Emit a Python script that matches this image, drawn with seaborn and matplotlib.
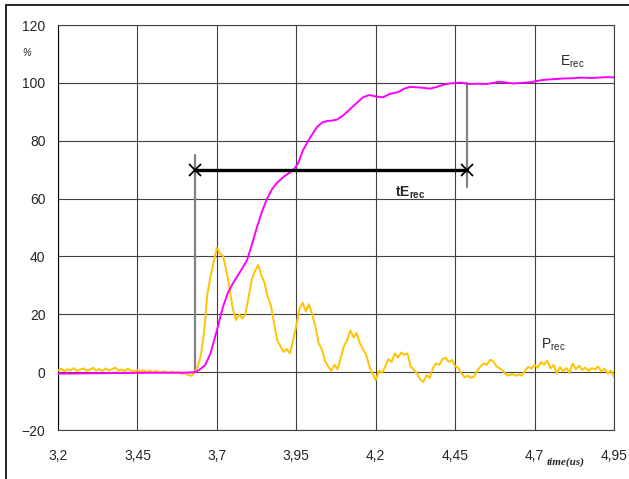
import numpy as np
import pandas as pd
import matplotlib
matplotlib.use("Agg")
import matplotlib.pyplot as plt
import seaborn as sns

# P_rec samples, one every 0.01 us from 3.20 to 4.95
P_TIME = np.round(np.arange(3.20, 4.9551, 0.01), 2)
P_REC = [
    0.5, 1.2, 0.3, 1.0, 0.6, 1.4, 0.4, 0.9, 1.3, 0.5,
    0.8, 1.5, 0.6, 1.1, 0.4, 1.3, 0.7, 1.0, 1.6, 0.5,
    0.9, 0.4, 1.2, 0.6, 0.3, 0.8, 0.2, 0.6, 0.1, 0.5,
    0.0, 0.4, -0.2, 0.3, 0.1, -0.3, 0.2, -0.4, 0.0, -0.6,
    -0.3, -0.9, -1.3, -0.2, 2.0, 6.0, 14.0, 27.0, 33.0, 38.0,
    43.0, 41.0, 40.0, 35.0, 29.0, 22.0, 18.0, 20.0, 18.5, 20.0,
    26.0, 32.0, 35.0, 37.0, 33.5, 31.0, 26.0, 23.0, 17.0, 11.0,
    9.0, 7.0, 8.0, 6.5, 11.0, 16.0, 22.0, 24.0, 21.0, 23.5,
    20.0, 16.0, 10.0, 8.0, 4.0, 2.0, 0.5, 2.5, 1.0, 5.0,
    9.0, 11.0, 14.5, 12.0, 13.5, 10.0, 8.0, 6.0, 2.0, -0.5,
    -2.8, 0.5, -0.2, 2.0, 4.5, 3.5, 6.5, 5.0, 6.8, 6.0,
    6.5, 2.0, 0.8, -0.5, -2.5, -3.4, -1.0, -2.0, 1.5, 3.0,
    2.5, 4.5, 5.0, 3.5, 4.2, 2.0, 1.5, -0.5, -1.8, -1.2,
    -2.0, -1.5, 0.5, 2.0, 3.0, 2.5, 4.3, 3.8, 2.0, 1.3,
    0.5, -0.8, -1.2, -0.6, -1.3, -0.8, -1.2, 0.5, 1.8, 1.2,
    2.5, 1.5, 3.5, 2.6, 4.0, 1.3, 2.5, -0.5, 1.8, 0.2,
    1.5, -0.3, 3.0, 1.0, 2.2, 0.8, 1.6, 0.4, 1.4, 0.9,
    2.0, 0.3, 1.2, -0.5, 0.6, -1.7,
]

E_TIME = [
    3.20, 3.30, 3.40, 3.50, 3.60, 3.63, 3.645, 3.663, 3.68, 3.694,
    3.705, 3.719, 3.735, 3.751, 3.775, 3.795, 3.81, 3.826, 3.842, 3.858,
    3.875, 3.889, 3.91, 3.94, 3.955, 3.971, 3.993, 4.015, 4.032, 4.047,
    4.065, 4.078, 4.095, 4.11, 4.14, 4.16, 4.18, 4.20, 4.223, 4.245,
    4.27, 4.29, 4.308, 4.34, 4.371, 4.393, 4.414, 4.434, 4.465, 4.497,
    4.525, 4.55, 4.57, 4.591, 4.61, 4.633, 4.66, 4.686, 4.705, 4.727,
    4.76, 4.79, 4.82, 4.843, 4.88, 4.928, 4.95,
]
E_REC = [
    -0.5, -0.4, -0.3, -0.2, -0.2, 0.0, 0.8, 2.4, 6.5, 12.0,
    16.5, 22.5, 27.5, 30.8, 35.0, 38.7, 44.0, 50.0, 55.5, 60.0,
    63.5, 65.4, 67.5, 69.8, 72.0, 76.7, 81.0, 84.7, 86.3, 86.8,
    87.0, 87.3, 88.5, 90.0, 93.0, 95.0, 95.8, 95.3, 95.0, 96.2,
    96.8, 98.0, 98.6, 98.4, 98.0, 98.6, 99.4, 99.8, 100.1, 99.6,
    99.7, 99.6, 100.0, 100.4, 100.1, 99.8, 100.0, 100.2, 100.6, 101.0,
    101.3, 101.5, 101.6, 101.8, 101.7, 102.0, 101.9,
]

# tE_rec span: start / end of the rise, drawn at the 70 % level
T_START = 3.63
T_END = 4.487
SPAN_LEVEL = 70

X_TICKS = [3.2, 3.45, 3.7, 3.95, 4.2, 4.45, 4.7, 4.95]
X_LABELS = ["3,2", "3,45", "3,7", "3,95", "4,2", "4,45", "4,7", "4,95"]
Y_TICKS = [-20, 0, 20, 40, 60, 80, 100, 120]

sns.set_style("white")
plt.rcParams["font.family"] = ["Liberation Sans", "DejaVu Sans"]

df_p = pd.DataFrame({"time": P_TIME, "value": P_REC})
df_e = pd.DataFrame({"time": E_TIME, "value": E_REC})

fig = plt.figure(figsize=(6.29, 4.79), dpi=100)
ax = fig.add_axes([58 / 629, 1 - 430 / 479, 556 / 629, 405 / 479])

# guide lines behind the curves
ax.plot([T_START, T_START], [0, 75], color="#808080", lw=1.6, zorder=2)
ax.plot([T_END, T_END], [64, 100], color="#808080", lw=1.6, zorder=2)

sns.lineplot(data=df_p, x="time", y="value", ax=ax, color="#FFC400", lw=1.4,
             zorder=3, estimator=None, sort=False)
sns.lineplot(data=df_e, x="time", y="value", ax=ax, color="#FF00FF", lw=1.4,
             zorder=4, estimator=None, sort=False)

ax.plot([T_START, T_END], [SPAN_LEVEL, SPAN_LEVEL], color="black", lw=2.4,
        marker="x", markersize=9, markeredgewidth=1.3, zorder=5)

ax.set_xlim(3.2, 4.95)
ax.set_ylim(-20, 120)
ax.set_xticks(X_TICKS)
ax.set_xticklabels(X_LABELS)
ax.set_yticks(Y_TICKS)
ax.grid(True, color="#404040", lw=0.8)
ax.set_axisbelow(True)
ax.tick_params(axis="both", direction="out", length=5, width=0.8,
               color="black", labelsize=10, pad=4)
ax.tick_params(axis="x", pad=9)
for sp in ax.spines.values():
    sp.set_color("#404040")
    sp.set_linewidth(0.8)
ax.spines["left"].set_color("black")
ax.set_xlabel("")
ax.set_ylabel("")

ax.text(4.78, 106, "E$_{\\mathregular{rec}}$", fontsize=10)
ax.text(4.72, 8, "P$_{\\mathregular{rec}}$", fontsize=10)
ax.text(4.308, 62, "tE$_{\\mathregular{rec}}$", fontsize=10, fontweight="bold",
        ha="center", va="center")

fig.text(27 / 629, 1 - 53 / 479, "%", fontsize=7, style="italic",
         ha="center", va="center")
fig.text(566 / 629, 1 - 462 / 479, "time(us)", fontsize=8,
         family="Liberation Serif", style="italic", fontweight="bold",
         ha="center", va="center")

# outer frame of the original picture
fig.patches.append(plt.Rectangle((6 / 629, -0.02), 1.1, 1 - 5 / 479 + 0.02,
                                 transform=fig.transFigure, fill=False,
                                 edgecolor="black", lw=1.2))

fig.savefig("out.png", dpi=100)
